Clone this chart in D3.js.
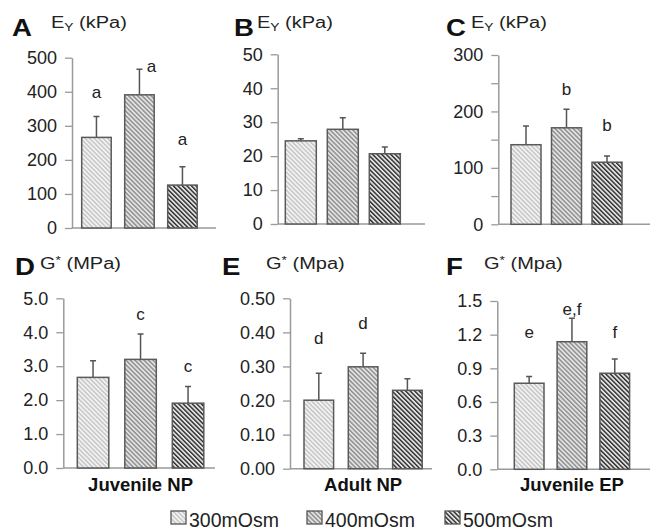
<!DOCTYPE html>
<html>
<head>
<meta charset="utf-8">
<script src="https://cdn.jsdelivr.net/npm/d3@7"></script>
<style>
  body { margin: 0; background: #fff; }
  svg { display: block; font-family: 'Liberation Sans', Arial, Helvetica, sans-serif; }
</style>
</head>
<body>
<svg id="chart" width="650" height="531"></svg>
<script>
// Osmolarity groups (one bar each per panel)
const groups = ['300mOsm', '400mOsm', '500mOsm']

// Panel letters, y titles and tissue labels
const panelNames = ['A', 'B', 'C', 'D', 'E', 'F']
const titleMain = ['E', 'E', 'E', 'G', 'G', 'G']
const titleSub = ['Y', 'Y', 'Y', '*', '*', '*']
const titleUnit = ['(kPa)', '(kPa)', '(kPa)', '(MPa)', '(Mpa)', '(Mpa)']
const tissues = ['', '', '', 'Juvenile NP', 'Adult NP', 'Juvenile EP']

// Y axes
const yMax = [500, 50, 300, 5, 0.5, 1.5]
const tickStep = [100, 10, 50, 1, 0.1, 0.3]
const labelEvery = [1, 1, 2, 1, 1, 1]
const tickFormat = ['d', 'd', 'd', '.1f', '.2f', '.1f']

// Means and standard deviations
const meansA = [266, 391, 126]
const sdA = [61, 75, 54]
const meansB = [24.5, 27.9, 20.7]
const sdB = [0.6, 3.4, 2.0]
const meansC = [141, 171, 110]
const sdC = [33, 33, 11]
const meansD = [2.67, 3.20, 1.91]
const sdD = [0.49, 0.75, 0.49]
const meansE = [0.201, 0.299, 0.230]
const sdE = [0.079, 0.040, 0.034]
const meansF = [0.767, 1.137, 0.856]
const sdF = [0.059, 0.209, 0.127]

// Significance letters and the height (in data units) where they sit
const lettersA = ['a', 'a', 'a']
const letterYA = [382, 458, 244]
const lettersB = ['', '', '']
const letterYB = [0, 0, 0]
const lettersC = ['', 'b', 'b']
const letterYC = [0, 229, 165]
const lettersD = ['', 'c', 'c']
const letterYD = [0, 4.36, 2.84]
const lettersE = ['d', 'd', '']
const letterYE = [0.366, 0.409, 0]
const lettersF = ['e', 'e,f', 'f']
const letterYF = [1.168, 1.371, 1.168]

const means = [meansA, meansB, meansC, meansD, meansE, meansF]
const sds = [sdA, sdB, sdC, sdD, sdE, sdF]
const letters = [lettersA, lettersB, lettersC, lettersD, lettersE, lettersF]
const letterY = [letterYA, letterYB, letterYC, letterYD, letterYE, letterYF]

// Layout of each panel (pixels)
const layout = [
  { axisX: 72, top: 57.7, bottom: 228, first: 9.7, step: 43, bw: 29.5, end: 216, letterX: 12, titleX: 51, row: 0 },
  { axisX: 277.7, top: 54.3, bottom: 224, first: 7.6, step: 42, bw: 31, end: 425, letterX: 234, titleX: 257, row: 0 },
  { axisX: 498.3, top: 55, bottom: 224.3, first: 12.7, step: 40.5, bw: 30, end: 650, letterX: 446, titleX: 471, row: 0 },
  { axisX: 63.3, top: 298.3, bottom: 468, first: 14, step: 47.5, bw: 31.5, end: 215, letterX: 15, titleX: 40, row: 1 },
  { axisX: 290, top: 298.3, bottom: 468.7, first: 14, step: 44.3, bw: 29.6, end: 432, letterX: 222, titleX: 266, row: 1 },
  { axisX: 497.3, top: 301, bottom: 469.3, first: 17, step: 42.8, bw: 29.7, end: 650, letterX: 446, titleX: 484, row: 1 }
]
const letterBase = [36, 275]
const titleBase = [28, 269]

// Hatch colours for each group
const hatchBg = ['#f2f2f2', '#e2e2e2', '#e2e2e2']
const hatchFg = ['#c4c4c4', '#8c8c8c', '#2a2a2a']

const svg = d3.select('#chart')
const defs = svg.append('defs')

// Diagonal hatch patterns ("\\" direction)
groups.forEach((g, i) => {
  const p = defs.append('pattern')
    .attr('id', 'hatch' + i)
    .attr('patternUnits', 'userSpaceOnUse')
    .attr('width', 3.2)
    .attr('height', 3.2)
    .attr('patternTransform', 'rotate(-45)')
  p.append('rect').attr('width', 3.2).attr('height', 3.2).attr('fill', hatchBg[i])
  p.append('rect').attr('width', 1.4).attr('height', 3.2).attr('fill', hatchFg[i])
})

layout.forEach((L, k) => {
  const g = svg.append('g')

  // Scales
  const x = d3.scaleBand()
    .domain(groups)
    .range([L.axisX + L.first, L.axisX + L.first + 2 * L.step + L.bw])
    .paddingInner(1 - L.bw / L.step)
    .paddingOuter(0)
  const y = d3.scaleLinear().domain([0, yMax[k]]).range([L.bottom, L.top])

  // Y axis
  const nTicks = Math.round(yMax[k] / tickStep[k])
  const ticks = d3.range(0, nTicks + 1).map(i => +(i * tickStep[k]).toFixed(4))
  const fmt = d3.format(tickFormat[k])
  const axis = g.append('g')
    .attr('transform', 'translate(' + L.axisX + ',0)')
    .call(d3.axisLeft(y)
      .tickValues(ticks)
      .tickSize(7)
      .tickSizeOuter(0)
      .tickPadding(8)
      .tickFormat((v, i) => i % labelEvery[k] === 0 ? fmt(v) : ''))
  axis.select('.domain').attr('stroke', '#9a9a9a').attr('stroke-width', 1.5)
  axis.selectAll('.tick line').attr('stroke', '#9a9a9a').attr('stroke-width', 1.3)
  axis.selectAll('.tick text')
    .attr('fill', '#222')
    .style('font-size', '18px')
    .attr('font-family', null)

  // Baseline
  g.append('line')
    .attr('x1', L.axisX)
    .attr('x2', L.end)
    .attr('y1', y(0))
    .attr('y2', y(0))
    .attr('stroke', '#9a9a9a')
    .attr('stroke-width', 1.5)

  // Bars
  const rows = groups.map((name, i) => ({ name, i, mean: means[k][i], sd: sds[k][i], letter: letters[k][i], ly: letterY[k][i] }))

  g.selectAll('.err')
    .data(rows)
    .join('path')
    .attr('class', 'err')
    .attr('d', d => {
      const cx = x(d.name) + x.bandwidth() / 2
      const yt = y(d.mean + d.sd)
      return 'M' + cx + ',' + y(d.mean) + 'V' + yt + 'M' + (cx - 3) + ',' + yt + 'H' + (cx + 3)
    })
    .attr('fill', 'none')
    .attr('stroke', '#555')
    .attr('stroke-width', 1.5)

  g.selectAll('.bar')
    .data(rows)
    .join('rect')
    .attr('class', 'bar')
    .attr('x', d => x(d.name))
    .attr('y', d => y(d.mean))
    .attr('width', x.bandwidth())
    .attr('height', d => y(0) - y(d.mean))
    .attr('fill', d => 'url(#hatch' + d.i + ')')
    .attr('stroke', '#5a5a5a')
    .attr('stroke-width', 1.5)

  // Significance letters; moved beside the error bar when they would overlap it
  g.selectAll('.sig')
    .data(rows.filter(d => d.letter !== ''))
    .join('text')
    .attr('class', 'sig')
    .attr('x', d => x(d.name) + x.bandwidth() / 2 + (d.ly < d.mean + d.sd ? 12 : 0))
    .attr('y', d => y(d.ly))
    .attr('text-anchor', 'middle')
    .attr('fill', '#222')
    .style('font-size', '17px')
    .text(d => d.letter)

  // Panel letter
  g.append('text')
    .attr('transform', 'translate(' + L.letterX + ',' + letterBase[L.row] + ') scale(1.2,1)')
    .attr('fill', '#111')
    .style('font-size', '23px')
    .style('font-weight', 'bold')
    .text(panelNames[k])

  // Y title, e.g. E_Y (kPa)
  const t = g.append('text')
    .attr('transform', 'translate(' + L.titleX + ',' + titleBase[L.row] + ') scale(1.25,1)')
    .attr('fill', '#222')
    .style('font-size', '16px')
  t.append('tspan').text(titleMain[k])
  if (titleSub[k] === 'Y') {
    t.append('tspan').attr('dy', 3).style('font-size', '11px').text('Y')
    t.append('tspan').attr('dy', -3).text(' ' + titleUnit[k])
  } else {
    t.append('tspan').attr('dy', -5).style('font-size', '11px').text('*')
    t.append('tspan').attr('dy', 5).text(' ' + titleUnit[k])
  }

  // Tissue label under the bars
  if (tissues[k]) {
    g.append('text')
      .attr('x', (x.range()[0] + x.range()[1]) / 2)
      .attr('y', 491)
      .attr('text-anchor', 'middle')
      .attr('fill', '#111')
      .style('font-size', '18.5px')
      .style('font-weight', 'bold')
      .text(tissues[k])
  }
})

// Legend
const legendX = [171, 307, 445]
const legend = svg.append('g')
groups.forEach((name, i) => {
  legend.append('rect')
    .attr('x', legendX[i])
    .attr('y', 511)
    .attr('width', 15)
    .attr('height', 13)
    .attr('fill', 'url(#hatch' + i + ')')
    .attr('stroke', '#555')
    .attr('stroke-width', 1.3)
  legend.append('text')
    .attr('x', legendX[i] + 18)
    .attr('y', 526.5)
    .attr('fill', '#222')
    .style('font-size', '19.5px')
    .text(name)
})
</script>
</body>
</html>
